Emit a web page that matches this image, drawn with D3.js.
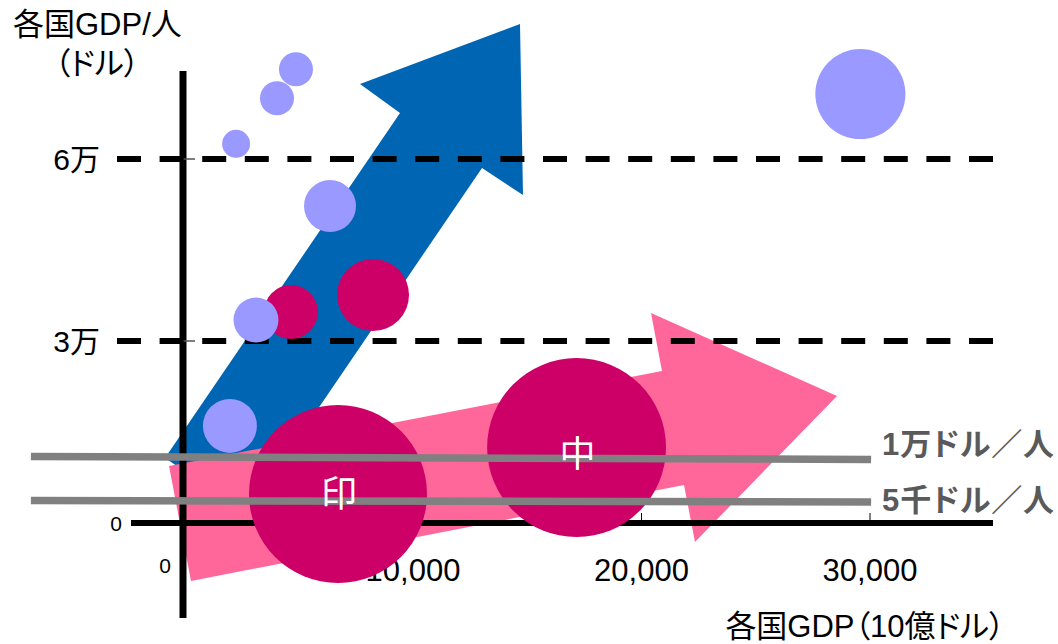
<!DOCTYPE html>
<html>
<head>
<meta charset="utf-8">
<script src="https://cdn.jsdelivr.net/npm/d3@7"></script>
<style>
	body { margin: 0; background: #fff; }
	svg { display: block; }
	text { font-family: "Liberation Sans", "Noto Sans CJK JP", sans-serif; }
	.jp { font-feature-settings: "palt"; }
</style>
</head>
<body>
<div class="plotWin"></div>
<script>

// ---------- data ----------
var xTickValues = [10000, 20000, 30000];
var yTickValues = [30000, 60000];
var yTickLabels = ["3万", "6万"];

// light purple bubbles: [GDP (10億ドル), GDP/人, size]
var blueBubbleX = [4900, 4070, 2280, 6390, 3150, 2010, 29600];
var blueBubbleY = [74800, 70000, 62500, 52250, 33460, 16000, 70700];
var blueBubbleSize = [3.65, 3.65, 2.47, 8.53, 6.39, 9.2, 25.6];

// magenta bubbles
var redBubbleX = [4680, 8270, 6740, 17180];
var redBubbleY = [34780, 37580, 4780, 12440];
var redBubbleSize = [9.2, 16.4, 100, 101];
var redBubbleLabel = ["", "", "印", "中"];

// reference lines (slightly tilted in the picture)
var refLineLabels = ["1万ドル／人", "5千ドル／人"];
var refLineStartY = [10960, 3710];
var refLineEndY = [10470, 3460];
var refLineX = [-6700, 30070];

// arrows, outline points in data units
var blueArrow = [[-832, 10714], [9453, 67579], [7702, 72359], [14705, 82248],
	[14836, 54063], [13042, 58513], [2757, 1648]];
var pinkArrow = [[-656, 9395], [20919, 25054], [20438, 34614], [28578, 20933],
	[22363, -3132], [21882, 6263], [306, -9560]];

// ---------- layout ----------
var SVG_WIDTH = 1058,
	SVG_HEIGHT = 644;

var x = d3.scaleLinear().domain([0, 10000]).range([184, 412.5]);
var y = d3.scaleLinear().domain([0, 60000]).range([523, 159]);
var r = d3.scaleSqrt().domain([0, 100]).range([0, 89]);

var svg = d3.select(".plotWin")
	.append("svg")
		.attr("width", SVG_WIDTH)
		.attr("height", SVG_HEIGHT);

var line = d3.line()
	.x(function(d) { return x(d[0]); })
	.y(function(d) { return y(d[1]); })
	.curve(d3.curveLinearClosed);

// arrows
svg.append("path")
	.attr("d", line(blueArrow))
	.attr("fill", "#0066B3");

svg.append("path")
	.attr("d", line(pinkArrow))
	.attr("fill", "#FF6699");

// y axis (thick line crossing below the x axis)
svg.append("line")
	.attr("x1", 183).attr("x2", 183)
	.attr("y1", 71).attr("y2", 618)
	.attr("stroke", "#000")
	.attr("stroke-width", 7);

// x axis
var xAxis = d3.axisBottom(x)
	.tickValues(xTickValues)
	.tickFormat(d3.format(","))
	.tickSizeInner(-10)
	.tickSizeOuter(0)
	.tickPadding(36);

var gx = svg.append("g")
	.attr("transform", "translate(0," + y(0) + ")")
	.call(xAxis);
gx.select(".domain").remove();
gx.selectAll("line").attr("stroke", "#000").attr("stroke-width", 1);
gx.selectAll("text")
	.attr("font-size", 31)
	.attr("font-family", "Liberation Sans, sans-serif")
	.attr("fill", "#000");

svg.append("line")
	.attr("x1", 131).attr("x2", 993)
	.attr("y1", y(0)).attr("y2", y(0))
	.attr("stroke", "#000")
	.attr("stroke-width", 6);

// y ticks + dashed guides
svg.selectAll(".ytick")
	.data(yTickValues)
	.enter()
	.append("line")
		.attr("class", "ytick")
		.attr("x1", 183).attr("x2", 195)
		.attr("y1", function(d) { return y(d); })
		.attr("y2", function(d) { return y(d); })
		.attr("stroke", "#555")
		.attr("stroke-width", 1.5);

svg.selectAll(".guide")
	.data(yTickValues)
	.enter()
	.append("line")
		.attr("class", "guide")
		.attr("x1", 117).attr("x2", 993)
		.attr("y1", function(d) { return y(d); })
		.attr("y2", function(d) { return y(d); })
		.attr("stroke", "#000")
		.attr("stroke-width", 6)
		.attr("stroke-dasharray", "24,18.6");

svg.selectAll(".ylabel")
	.data(yTickValues)
	.enter()
	.append("text")
		.attr("class", "ylabel jp")
		.attr("x", 100)
		.attr("y", function(d) { return y(d); })
		.attr("dy", "0.36em")
		.attr("text-anchor", "end")
		.attr("font-size", 30)
		.text(function(d, i) { return yTickLabels[i]; });

// zero labels
svg.append("text")
	.attr("x", 122).attr("y", y(0))
	.attr("dy", "0.36em")
	.attr("text-anchor", "end")
	.attr("font-size", 21)
	.text("0");

svg.append("text")
	.attr("x", x(0) - 19).attr("y", y(0) + 42)
	.attr("dy", "0.36em")
	.attr("text-anchor", "middle")
	.attr("font-size", 21)
	.text("0");

// bubbles: magenta under light purple
var red = redBubbleX.map(function(d, i) {
	return {x: d, y: redBubbleY[i], s: redBubbleSize[i], label: redBubbleLabel[i]};
});
var blue = blueBubbleX.map(function(d, i) {
	return {x: d, y: blueBubbleY[i], s: blueBubbleSize[i]};
});

svg.selectAll(".red")
	.data(red)
	.enter()
	.append("circle")
		.attr("class", "red")
		.attr("cx", function(d) { return x(d.x); })
		.attr("cy", function(d) { return y(d.y); })
		.attr("r", function(d) { return r(d.s); })
		.attr("fill", "#CC0066");

svg.selectAll(".blue")
	.data(blue)
	.enter()
	.append("circle")
		.attr("class", "blue")
		.attr("cx", function(d) { return x(d.x); })
		.attr("cy", function(d) { return y(d.y); })
		.attr("r", function(d) { return r(d.s); })
		.attr("fill", "#9999FF");

// reference lines
svg.selectAll(".ref")
	.data(refLineLabels)
	.enter()
	.append("line")
		.attr("class", "ref")
		.attr("x1", x(refLineX[0])).attr("x2", x(refLineX[1]))
		.attr("y1", function(d, i) { return y(refLineStartY[i]); })
		.attr("y2", function(d, i) { return y(refLineEndY[i]); })
		.attr("stroke", "#808080")
		.attr("stroke-width", 7.5);

svg.selectAll(".refLabel")
	.data(refLineLabels)
	.enter()
	.append("text")
		.attr("class", "refLabel jp")
		.attr("x", x(refLineX[1]) + 11)
		.attr("y", function(d, i) { return y(refLineEndY[i]) - 16 + i * 14; })
		.attr("dy", "0.36em")
		.attr("font-size", 31)
		.attr("font-weight", "bold")
		.attr("fill", "#5A5A5A")
		.attr("textLength", 172)
		.attr("lengthAdjust", "spacing")
		.text(function(d) { return d; });

// bubble labels
svg.selectAll(".bLabel")
	.data(red.filter(function(d) { return d.label; }))
	.enter()
	.append("text")
		.attr("class", "bLabel jp")
		.attr("x", function(d) { return x(d.x) + 1; })
		.attr("y", function(d, i) { return y(d.y) + (i ? 7 : 0); })
		.attr("dy", "0.36em")
		.attr("text-anchor", "middle")
		.attr("font-size", 36)
		.attr("fill", "#fff")
		.text(function(d) { return d.label; });

// axis titles
svg.append("text")
	.attr("class", "jp")
	.attr("x", 13).attr("y", 35)
	.attr("font-size", 31)
	.text("各国GDP/人");

svg.append("text")
	.attr("class", "jp")
	.attr("x", 97).attr("y", 74)
	.attr("text-anchor", "middle")
	.attr("font-size", 31)
	.text("（ドル）");

svg.append("text")
	.attr("class", "jp")
	.attr("x", 865).attr("y", 637)
	.attr("text-anchor", "middle")
	.attr("font-size", 31)
	.text("各国GDP（10億ドル）");

</script>
</body>
</html>
